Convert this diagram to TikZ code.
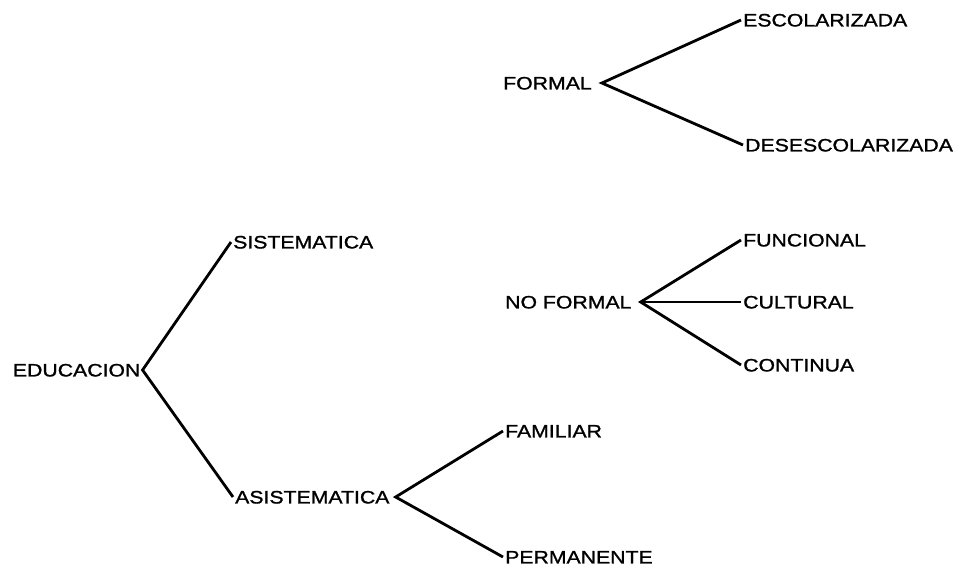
\documentclass[tikz,border=0pt]{standalone}
\usepackage{fontspec}
\setmainfont{Liberation Sans}[FakeStretch=1.18, FakeBold=1.2]
\usepackage{tikz}
\tikzset{
    lbl/.style={anchor=west, inner xsep=2pt, inner ysep=0pt,
        text height=12.9pt, text depth=0pt,
        font=\fontsize{18pt}{21pt}\selectfont},
    branch/.style={line width=2.8pt, line join=miter, line cap=butt}
}

\begin{document}
\begin{tikzpicture}[x=1pt, y=-1pt]
    \fill[white] (0,0) rectangle (968,566);
    \useasboundingbox (0,0) rectangle (968,566);

    \node[lbl] (educ) at (10.7,370) {EDUCACION};
    \node[lbl] (sist) at (231,242) {SISTEMATICA};
    \node[lbl] (asis) at (233,497) {ASISTEMATICA};
    \node[lbl] (fami) at (503,431) {FAMILIAR};
    \node[lbl] (perm) at (503,557) {PERMANENTE};

    \node[lbl] (formal) at (501,83) {FORMAL};
    \node[lbl] (escol) at (741,20) {ESCOLARIZADA};
    \node[lbl] (desesc) at (743,145) {DESESCOLARIZADA};

    \node[lbl] (noformal) at (503,302) {NO FORMAL};
    \node[lbl] (func) at (741,240) {FUNCIONAL};
    \node[lbl] (cult) at (741,302) {CULTURAL};
    \node[lbl] (cont) at (741,365) {CONTINUA};

    %\draw (sist.west) -- (formal.west);
    \draw[branch] (sist.west) -- (educ.east) -- (asis.west);
    \draw[branch] (fami.west) -- ([xshift=4pt]asis.east) -- (perm.west);
    \draw[branch] (escol.west) -- ([xshift=8pt]formal.east) -- (desesc.west);
    \draw[branch] (func.west) -- ([xshift=7pt]noformal.east) -- (cont.west);
    \draw[branch] ([xshift=7pt]noformal.east) -- (cult.west);
\end{tikzpicture}
\end{document}
